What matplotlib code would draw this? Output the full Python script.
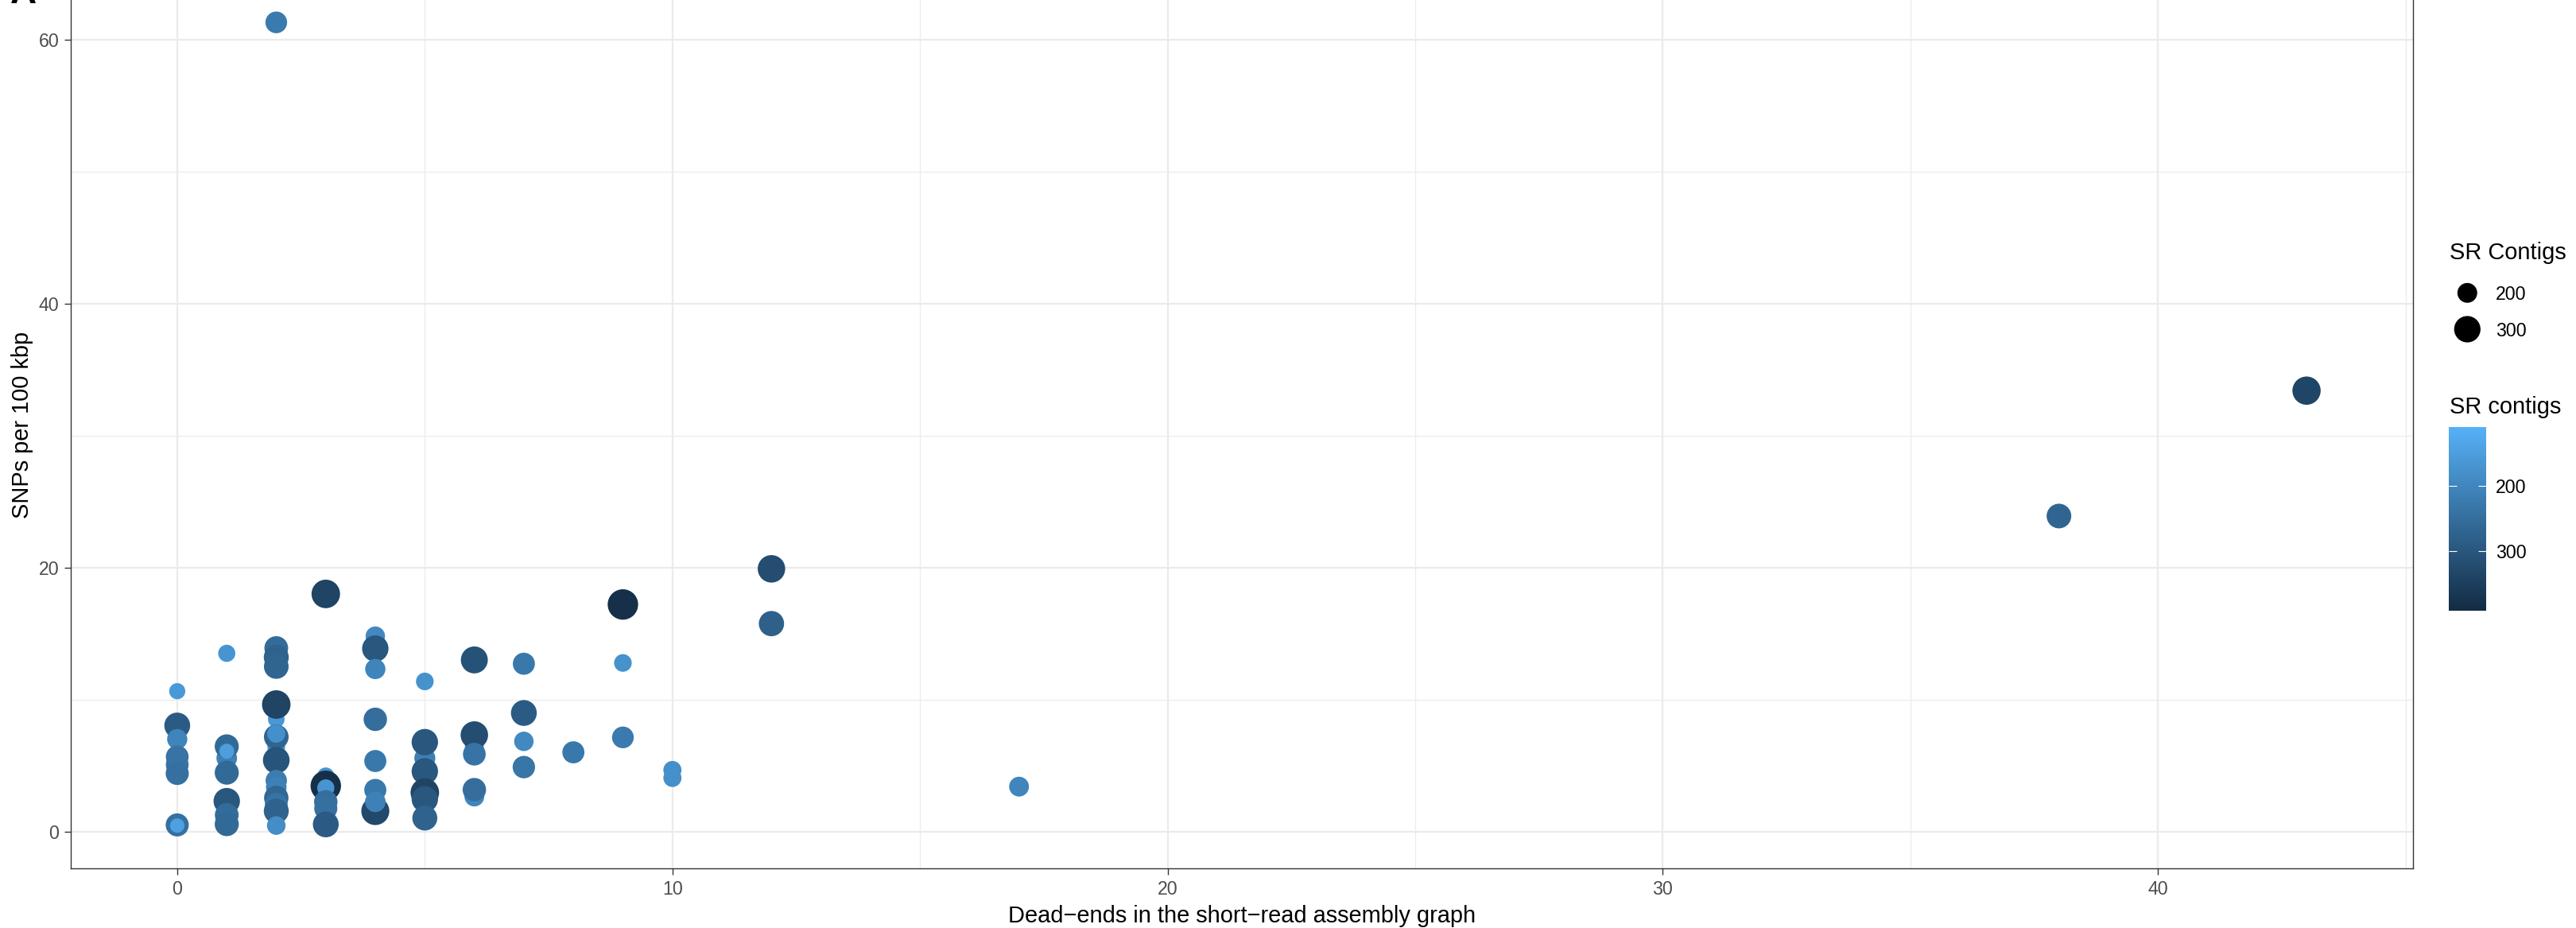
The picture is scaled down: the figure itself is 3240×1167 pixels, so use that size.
import numpy as np
import matplotlib
matplotlib.use("Agg")
import matplotlib.pyplot as plt
from matplotlib.colors import LinearSegmentedColormap, Normalize
from matplotlib.cm import ScalarMappable

plt.rcParams['font.family'] = ['Liberation Sans', 'DejaVu Sans']

# dead-ends per isolate, SNP density and number of short-read contigs
dead_ends = [0, 0, 0, 0, 0, 0, 0, 0,
             1, 1, 1, 1, 1, 1, 1, 1,
             2, 2, 2, 2, 2, 2, 2, 2, 2, 2, 2, 2, 2, 2, 2, 2,
             3, 3, 3, 3, 3, 3, 3,
             4, 4, 4, 4, 4, 4, 4, 4,
             5, 5, 5, 5, 5, 5, 5,
             6, 6, 6, 6, 6, 6,
             7, 7, 7, 7,
             8,
             9, 9, 9,
             10, 10,
             12, 12,
             17, 38, 43]
snps_per_100kbp = [10.63, 8.03, 7.0, 5.66, 5.06, 4.4, 0.5, 0.45,
                   13.5, 5.56, 6.45, 6.08, 4.46, 2.3, 1.25, 0.56,
                   61.3, 13.9, 13.2, 12.5, 8.5, 9.62, 6.4, 7.17, 7.41, 5.4, 3.86, 3.35, 2.55, 2.05, 1.55, 0.45,
                   18.0, 4.2, 3.46, 3.3, 2.25, 1.75, 0.54,
                   14.8, 13.86, 12.31, 8.5, 5.34, 1.55, 3.15, 2.25,
                   11.37, 5.56, 6.77, 4.56, 2.95, 2.45, 1.02,
                   13.0, 6.4, 7.31, 5.86, 2.65, 3.17,
                   12.71, 8.98, 6.83, 4.88,
                   6.0,
                   17.2, 12.77, 7.13,
                   4.66, 4.06,
                   19.9, 15.75,
                   3.4, 23.9, 33.4]
sr_contigs = [160, 290, 205, 240, 240, 245, 245, 145,
              170, 210, 260, 150, 260, 300, 255, 260,
              225, 255, 275, 270, 165, 340, 175, 270, 180, 305, 220, 210, 265, 240, 275, 185,
              340, 170, 380, 170, 250, 245, 290,
              195, 300, 205, 250, 230, 330, 230, 210,
              175, 215, 300, 300, 340, 300, 275,
              310, 190, 320, 240, 200, 250,
              230, 290, 195, 235,
              230,
              380, 175, 225,
              180, 180,
              320, 280,
              200, 270, 335]

contig_limits = (109, 392)
size_breaks = [200, 300]

DPI = 100
W, H = 3240, 1167


def marker_area(v):
    t = np.clip((np.asarray(v, float) - contig_limits[0]) /
                (contig_limits[1] - contig_limits[0]), 0, 1)
    d_px = 6.5 * (1 + 5 * np.sqrt(t))
    return (d_px * 72 / DPI) ** 2


cmap = LinearSegmentedColormap.from_list('sr', ['#56B1F7', '#132B43'])
norm = Normalize(*contig_limits)

fig = plt.figure(figsize=(W / DPI, H / DPI), dpi=DPI)

# panel: top edge runs past the figure
left, right, bottom_px, top_px = 89, 3035, 1092.3, -22.5
ax = fig.add_axes([left / W, (H - bottom_px) / H, (right - left) / W,
                   (bottom_px - top_px) / H])

ax.scatter(dead_ends, snps_per_100kbp, s=marker_area(sr_contigs),
           c=cmap(norm(sr_contigs)), linewidths=0, zorder=3)

ax.set_xlim(-2.15, 45.15)
ax.set_ylim(-2.81, 64.35)
ax.set_xticks([0, 10, 20, 30, 40])
ax.set_xticks([5, 15, 25, 35, 45], minor=True)
ax.set_yticks([0, 20, 40, 60])
ax.set_yticks([10, 30, 50], minor=True)
ax.grid(which='major', color='#EBEBEB', linewidth=1.7, zorder=0)
ax.grid(which='minor', color='#EBEBEB', linewidth=0.9, zorder=0)
ax.set_axisbelow(True)
for sp in ax.spines.values():
    sp.set_color('#333333')
    sp.set_linewidth(1.0)
ax.tick_params(which='major', length=5.5, width=1.0, color='#333333',
               labelsize=16.7, labelcolor='#4D4D4D', pad=5)
ax.tick_params(which='minor', length=0)

ax.set_xlabel('Dead\u2212ends in the short\u2212read assembly graph',
              fontsize=20.9, labelpad=5.5)
ax.set_ylabel('SNPs per 100 kbp', fontsize=20.9, labelpad=5)

# panel tag
fig.text(13 / W, 1 - 4 / H, 'A', fontsize=33, fontweight='bold', va='baseline')

# legends drawn in pixel coordinates
lg = fig.add_axes([0, 0, 1, 1], facecolor='none')
lg.set_xlim(0, W)
lg.set_ylim(H, 0)
lg.axis('off')

lg.text(3081, 326, 'SR Contigs', fontsize=20.9, va='baseline')
key_y = [368.3, 414]
lg.scatter([3103.3] * 2, key_y, s=marker_area(size_breaks), c='black',
           linewidths=0)
for yk, lab in zip(key_y, size_breaks):
    lg.text(3139, yk, str(lab), fontsize=16.7, va='center_baseline')

lg.text(3081, 520, 'SR contigs', fontsize=20.9, va='baseline')
cax = fig.add_axes([3080 / W, (H - 768.3) / H, 46.7 / W, 231.6 / H])
cb = fig.colorbar(ScalarMappable(norm=norm, cmap=cmap), cax=cax)
cb.outline.set_visible(False)
cax.invert_yaxis()
cb.set_ticks(size_breaks)
cax.tick_params(left=True, right=True, direction='in', length=7, width=0.8,
                color='white', labelsize=16.7, pad=9)

fig.savefig('out.png', dpi=DPI, facecolor='white')
